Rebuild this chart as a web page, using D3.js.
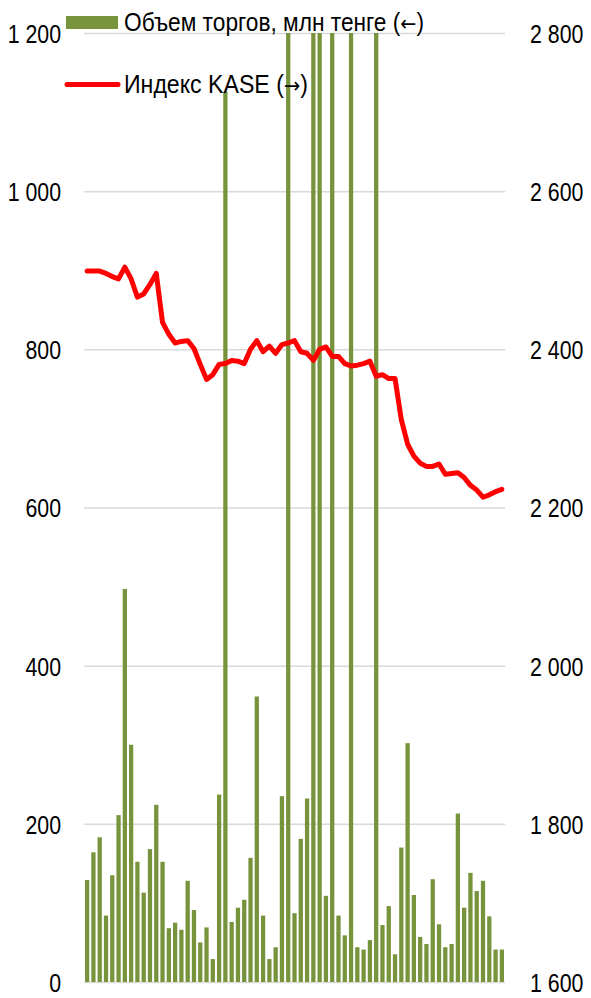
<!DOCTYPE html>
<html>
<head>
<meta charset="utf-8">
<script src="https://cdn.jsdelivr.net/npm/d3@7"></script>
<style>
  body { margin: 0; background: #fff; }
  text { font-family: "Liberation Sans Narrow", "Arial Narrow", "Liberation Sans", sans-serif; fill: #000; }
</style>
</head>
<body>
<div id="viz"></div>
<script>
// Chart data
const days = d3.range(1, 68).map(String);
// trading volume, mln tenge (left axis); several days go off the top of the scale
const volume = [129,164,183,84,135,211,497,300,152,113,
                168,224,152,68,75,66,128,91,50,69,
                29,237,1126,76,94,104,157,361,84,29,
                44,235,1850,87,181,232,2100,1600,109,1400,
                84,59,1750,44,41,53,1500,72,96,35,
                170,302,110,57,48,130,73,44,48,213,
                94,138,115,128,83,41,41];
// KASE index (right axis)
const kase = [2499,2499,2499,2496,2492,2489,2504,2489,2466,2470,
              2482,2496,2434,2419,2408,2410,2411,2401,2381,2362,
              2368,2381,2382,2386,2385,2382,2400,2411,2397,2404,
              2395,2406,2408,2411,2397,2395,2386,2400,2403,2391,
              2391,2382,2379,2380,2382,2385,2366,2368,2363,2363,
              2311,2280,2265,2256,2252,2252,2255,2242,2243,2244,
              2238,2228,2222,2213,2216,2220,2223];
const leftTicks = [0,200,400,600,800,1000,1200];
const rightTicks = [1600,1800,2000,2200,2400,2600,2800];
const legendVolume = ["Объем торгов, млн тенге (", "←", ")"];
const legendKase = ["Индекс KASE (", "→", ")"];

// Geometry
const width = 591, height = 998;
const plot = {left: 84, right: 505, top: 33, bottom: 982};
const barColor = "#77933c";
const lineColor = "#ff0000";
const gridColor = "#d9d9d9";
const fontSize = 26;
const squeeze = 0.82; // the original uses a narrow face

const fmt = d => d3.format(",")(d).replace(/,/g, "\u00a0");

const svg = d3.select("#viz").append("svg")
  .attr("width", width)
  .attr("height", height);

const x = d3.scaleBand().domain(days)
  .range([plot.left, plot.right])
  .paddingInner(0.32).paddingOuter(0.16);
const yL = d3.scaleLinear().domain([0, 1200]).range([plot.bottom, plot.top]).clamp(true);
const yR = d3.scaleLinear().domain([1600, 2800]).range([plot.bottom, plot.top]);

function narrow(sel) {
  sel.each(function() {
    const w = this.getComputedTextLength();
    d3.select(this).attr("textLength", w * squeeze).attr("lengthAdjust", "spacingAndGlyphs");
  });
}

// gridlines + left labels
const leftAxis = svg.append("g")
  .attr("transform", "translate(" + plot.left + ",0)")
  .call(d3.axisLeft(yL).tickValues(leftTicks).tickFormat(fmt)
    .tickSize(-(plot.right - plot.left)).tickPadding(23));
leftAxis.select(".domain").remove();
leftAxis.selectAll("line").attr("stroke", gridColor).attr("stroke-width", 1.5);
leftAxis.selectAll("text").attr("font-size", fontSize).attr("font-family", null)
  .attr("dy", "0.36em").call(narrow);

const rightAxis = svg.append("g")
  .attr("transform", "translate(" + plot.right + ",0)")
  .call(d3.axisRight(yR).tickValues(rightTicks).tickFormat(fmt)
    .tickSize(0).tickPadding(25));
rightAxis.select(".domain").remove();
rightAxis.selectAll("text").attr("font-size", fontSize).attr("font-family", null)
  .attr("dy", "0.36em").call(narrow);

// bars
svg.append("g").selectAll("rect")
  .data(volume)
  .join("rect")
  .attr("x", (d, i) => x(days[i]))
  .attr("width", x.bandwidth())
  .attr("y", d => yL(d))
  .attr("height", d => yL(0) - yL(d))
  .attr("fill", barColor);

// index line
const line = d3.line()
  .x((d, i) => x(days[i]) + x.bandwidth() / 2)
  .y(d => yR(d));
svg.append("path")
  .attr("d", line(kase))
  .attr("fill", "none")
  .attr("stroke", lineColor)
  .attr("stroke-width", 5)
  .attr("stroke-linejoin", "round")
  .attr("stroke-linecap", "round");

// legend
function legendText(g, parts, y, len) {
  const t = g.append("text")
    .attr("x", 124).attr("y", y)
    .attr("font-size", fontSize)
    .attr("textLength", len).attr("lengthAdjust", "spacingAndGlyphs");
  t.append("tspan").text(parts[0]);
  t.append("tspan").style("font-family", "'DejaVu Sans', sans-serif").attr("font-size", 22).text(parts[1]);
  t.append("tspan").text(parts[2]);
}
const lg = svg.append("g");
lg.append("rect")
  .attr("x", 66).attr("y", 16).attr("width", 52).attr("height", 13)
  .attr("fill", barColor);
legendText(lg, legendVolume, 31, 300);
lg.append("line")
  .attr("x1", 67).attr("x2", 118).attr("y1", 84.5).attr("y2", 84.5)
  .attr("stroke", lineColor).attr("stroke-width", 5)
  .attr("stroke-linecap", "round");
legendText(lg, legendKase, 93, 184);
</script>
</body>
</html>
